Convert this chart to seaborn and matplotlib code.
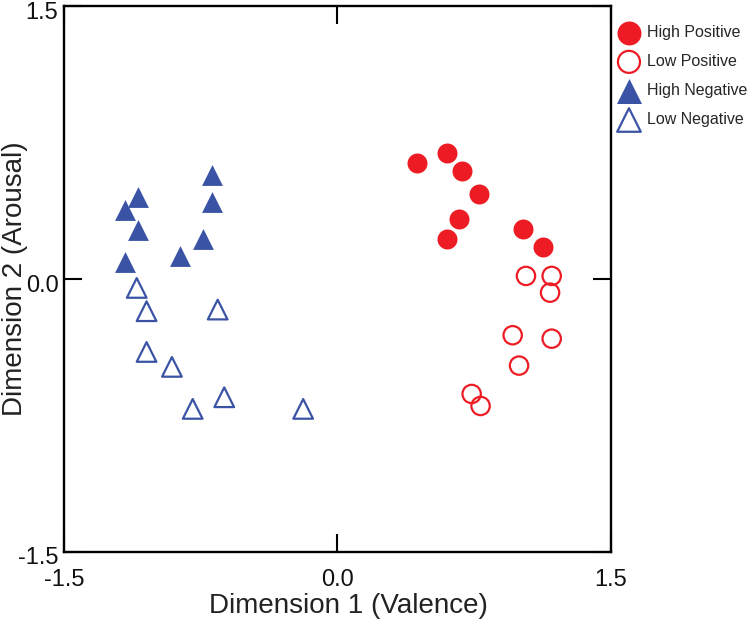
import matplotlib
matplotlib.use("Agg")
import matplotlib.pyplot as plt
import matplotlib.transforms as mtransforms
import seaborn as sns
import pandas as pd

# MDS coordinates
hp_x = [0.434, 0.599, 0.683, 0.776, 0.665, 0.599, 1.016, 1.129]
hp_y = [0.636, 0.694, 0.592, 0.468, 0.331, 0.221, 0.276, 0.174]
lp_x = [1.034, 1.175, 1.166, 0.961, 1.175, 0.996, 0.736, 0.785]
lp_y = [0.016, 0.016, -0.076, -0.310, -0.329, -0.477, -0.633, -0.699]
hn_x = [-0.688, -0.688, -1.093, -1.166, -1.093, -0.739, -0.864, -1.166]
hn_y = [0.571, 0.424, 0.450, 0.379, 0.267, 0.219, 0.128, 0.091]
ln_x = [-1.101, -1.047, -0.657, -1.047, -0.908, -0.621, -0.794, -0.188]
ln_y = [-0.050, -0.178, -0.169, -0.402, -0.484, -0.651, -0.715, -0.715]

groups = ["High Positive", "Low Positive", "High Negative", "Low Negative"]
ticks = [-1.5, 0.0, 1.5]
tick_labels = ["-1.5", "0.0", "1.5"]

red = "#ED1C24"
blue = "#3A53A4"

df = pd.concat([
    pd.DataFrame({"x": hp_x, "y": hp_y, "group": groups[0]}),
    pd.DataFrame({"x": lp_x, "y": lp_y, "group": groups[1]}),
    pd.DataFrame({"x": hn_x, "y": hn_y, "group": groups[2]}),
    pd.DataFrame({"x": ln_x, "y": ln_y, "group": groups[3]}),
])

sns.set_style("ticks")
plt.rcParams["font.family"] = ["Liberation Sans", "DejaVu Sans"]
plt.rcParams["axes.unicode_minus"] = False

fig = plt.figure(figsize=(7.5, 6.24), dpi=100)
ax = fig.add_axes([0.0853, 0.1159, 0.7293, 0.8745])

styles = {
    "High Positive": dict(marker="o", s=207, color=red, edgecolor=red, linewidth=0),
    "Low Positive": dict(marker="o", s=175, color=red, facecolor="none", edgecolor=red, linewidth=1.6),
    "High Negative": dict(marker="^", s=225, color=blue, edgecolor=blue, linewidth=0),
    "Low Negative": dict(marker="^", s=200, color=blue, facecolor="none", edgecolor=blue, linewidth=1.6),
}
for g in groups:
    sub = df[df["group"] == g]
    sns.scatterplot(data=sub, x="x", y="y", ax=ax, label=g, **styles[g])

ax.set_xlim(-1.5, 1.5)
ax.set_ylim(-1.5, 1.5)
ax.set_xticks(ticks)
ax.set_xticklabels(tick_labels)
ax.set_yticks(ticks)
ax.set_yticklabels(tick_labels)
ax.tick_params(direction="in", length=13, width=1.5, color="black",
               top=True, right=True, labelsize=17, labelcolor="#111111")
ax.tick_params(axis="x", pad=12.5)
ax.tick_params(axis="y", pad=4)
# y tick labels sit a few pixels below their ticks in the original
shift = mtransforms.ScaledTranslation(0, -3 / 72, fig.dpi_scale_trans)
for lab in ax.get_yticklabels():
    lab.set_transform(lab.get_transform() + shift)
for sp in ax.spines.values():
    sp.set_linewidth(1.7)
    sp.set_color("black")

ax.set_xlabel("Dimension 1 (Valence)", fontsize=20, color="#222222")
ax.set_ylabel("Dimension 2 (Arousal)", fontsize=20, color="#222222")
ax.xaxis.set_label_coords(0.52, -0.076)
ax.yaxis.set_label_coords(-0.065, 0.5)

handles, labels = ax.get_legend_handles_labels()
ax.legend(handles, labels, loc="upper left", bbox_to_anchor=(613 / 750, 1 - 25 / 624),
          bbox_transform=fig.transFigure, frameon=False, fontsize=11.5,
          markerscale=1.2, handletextpad=0.12, labelspacing=0.88,
          borderpad=0, borderaxespad=0, handlelength=2.0)

fig.savefig("out.png", dpi=100)
